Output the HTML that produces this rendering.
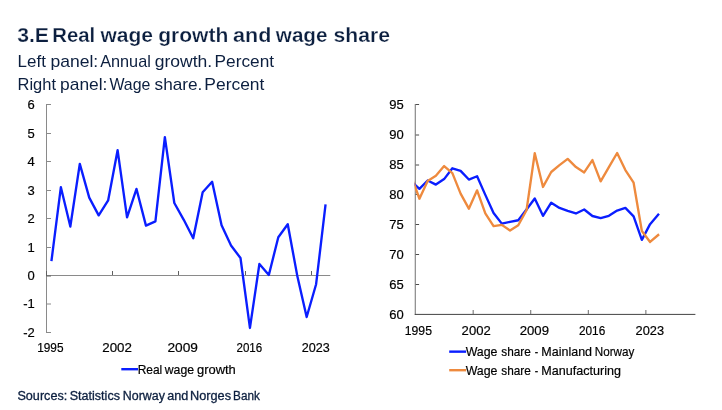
<!DOCTYPE html>
<html lang="en"><head><meta charset="utf-8"><title>3.E Real wage growth and wage share</title>
<style>
html,body{margin:0;padding:0;background:#fff;}
body{width:722px;height:410px;overflow:hidden;font-family:"Liberation Sans", sans-serif;}
svg{display:block;will-change:transform;}
text{font-family:"Liberation Sans", sans-serif;white-space:pre;}
.ttl{font-size:20.4px;font-weight:700;fill:#0c1f3f;stroke:#fff;stroke-width:0.25px;}
.sub{font-size:16.1px;fill:#0c1f3f;}
.src{font-size:12.3px;fill:#0c1f3f;stroke:#0c1f3f;stroke-width:0.3px;}
.ax{font-size:13px;fill:#000000;stroke:#000000;stroke-width:0.2px;}
.lg{font-size:13px;fill:#000000;stroke:#000000;stroke-width:0.2px;}
</style></head><body>
<svg width="722" height="410" viewBox="0 0 722 410">
<text class="ttl" y="42.0"><tspan x="17.21" textLength="31.77" lengthAdjust="spacingAndGlyphs">3.E</tspan> <tspan x="52.26" textLength="42.91" lengthAdjust="spacingAndGlyphs">Real</tspan> <tspan x="100.43" textLength="52.59" lengthAdjust="spacingAndGlyphs">wage</tspan> <tspan x="158.22" textLength="70.05" lengthAdjust="spacingAndGlyphs">growth</tspan> <tspan x="233.03" textLength="38.36" lengthAdjust="spacingAndGlyphs">and</tspan> <tspan x="275.83" textLength="51.64" lengthAdjust="spacingAndGlyphs">wage</tspan> <tspan x="333.45" textLength="56.47" lengthAdjust="spacingAndGlyphs">share</tspan></text>
<text class="sub" y="66.95"><tspan x="17.62" textLength="28.28" lengthAdjust="spacingAndGlyphs">Left</tspan> <tspan x="50.41" textLength="47.74" lengthAdjust="spacingAndGlyphs">panel:</tspan> <tspan x="100.21" textLength="50.62" lengthAdjust="spacingAndGlyphs">Annual</tspan> <tspan x="154.71" textLength="57.49" lengthAdjust="spacingAndGlyphs">growth.</tspan> <tspan x="214.62" textLength="59.40" lengthAdjust="spacingAndGlyphs">Percent</tspan></text>
<text class="sub" y="90.3"><tspan x="17.54" textLength="38.48" lengthAdjust="spacingAndGlyphs">Right</tspan> <tspan x="60.10" textLength="47.36" lengthAdjust="spacingAndGlyphs">panel:</tspan> <tspan x="109.40" textLength="41.00" lengthAdjust="spacingAndGlyphs">Wage</tspan> <tspan x="154.57" textLength="47.80" lengthAdjust="spacingAndGlyphs">share.</tspan> <tspan x="204.30" textLength="60.10" lengthAdjust="spacingAndGlyphs">Percent</tspan></text>
<g stroke="#8a8a8a" stroke-width="1" fill="none">
<path d="M46.5 104V333"/>
<path d="M46 275.5H330.3"/>
<path d="M47 104.5h4"/>
<path d="M47 133.5h4"/>
<path d="M47 161.5h4"/>
<path d="M47 190.5h4"/>
<path d="M47 218.5h4"/>
<path d="M47 247.5h4"/>
<path d="M47 304.0h4"/>
<path d="M47 332.5h4"/>
</g>
<g stroke="#606060" stroke-width="1" fill="none">
<path d="M112.5 275v-4"/>
<path d="M178.5 275v-4"/>
<path d="M245.5 275v-4"/>
<path d="M311.5 275v-4"/>
<path d="M46.5 271v5h4.5"/>
</g>
<g stroke="#4d4d4d" stroke-width="1" fill="none">
<path d="M415.25 104V314.9" stroke="#707070"/><path d="M414.75 314.4H695.4" stroke="#424242"/>
<path d="M415.6 104.5H419.1"/>
<path d="M415.6 135.0H419.1"/>
<path d="M415.6 165.0H419.1"/>
<path d="M415.6 194.5H419.1"/>
<path d="M415.6 224.5H419.1"/>
<path d="M415.6 254.5H419.1"/>
<path d="M415.6 284.5H419.1"/>
</g>
<g stroke="#6a6a6a" stroke-width="1" fill="none">
<path d="M473.17 314v-4"/>
<path d="M530.74 314v-4"/>
<path d="M588.31 314v-4"/>
<path d="M645.88 314v-4"/>
</g>
<text class="ax" x="34.7" y="336.98" text-anchor="end">-2</text>
<text class="ax" x="34.7" y="308.49" text-anchor="end">-1</text>
<text class="ax" x="34.7" y="280.00" text-anchor="end">0</text>
<text class="ax" x="34.7" y="251.51" text-anchor="end">1</text>
<text class="ax" x="34.7" y="223.02" text-anchor="end">2</text>
<text class="ax" x="34.7" y="194.53" text-anchor="end">3</text>
<text class="ax" x="34.7" y="166.04" text-anchor="end">4</text>
<text class="ax" x="34.7" y="137.55" text-anchor="end">5</text>
<text class="ax" x="34.7" y="109.06" text-anchor="end">6</text>
<text class="ax" x="403.8" y="319.00" text-anchor="end">60</text>
<text class="ax" x="403.8" y="289.01" text-anchor="end">65</text>
<text class="ax" x="403.8" y="259.01" text-anchor="end">70</text>
<text class="ax" x="403.8" y="229.02" text-anchor="end">75</text>
<text class="ax" x="403.8" y="199.03" text-anchor="end">80</text>
<text class="ax" x="403.8" y="169.04" text-anchor="end">85</text>
<text class="ax" x="403.8" y="139.04" text-anchor="end">90</text>
<text class="ax" x="403.8" y="109.05" text-anchor="end">95</text>
<text class="ax" y="352.0"><tspan x="37.18" textLength="26.32" lengthAdjust="spacingAndGlyphs">1995</tspan> <tspan x="102.23" textLength="29.66" lengthAdjust="spacingAndGlyphs">2002</tspan> <tspan x="167.43" textLength="30.50" lengthAdjust="spacingAndGlyphs">2009</tspan> <tspan x="236.52" textLength="25.69" lengthAdjust="spacingAndGlyphs">2016</tspan> <tspan x="301.86" textLength="28.02" lengthAdjust="spacingAndGlyphs">2023</tspan></text>
<text class="ax" y="335.1"><tspan x="404.78" textLength="27.21" lengthAdjust="spacingAndGlyphs">1995</tspan> <tspan x="461.64" textLength="29.11" lengthAdjust="spacingAndGlyphs">2002</tspan> <tspan x="519.73" textLength="29.28" lengthAdjust="spacingAndGlyphs">2009</tspan> <tspan x="578.92" textLength="26.30" lengthAdjust="spacingAndGlyphs">2016</tspan> <tspan x="635.54" textLength="28.48" lengthAdjust="spacingAndGlyphs">2023</tspan></text>
<polyline fill="none" stroke="#0a1eff" stroke-width="2.35" stroke-linejoin="round" stroke-linecap="butt" points="51.43,261.15 60.88,187.22 70.33,226.49 79.79,163.85 89.24,197.59 98.69,215.38 108.14,200.44 117.60,150.17 127.05,217.38 136.50,188.93 145.96,225.64 155.41,221.39 164.86,137.20 174.32,203.01 183.77,219.82 193.22,238.18 202.67,192.18 212.13,181.80 221.58,225.24 231.03,245.47 240.49,258.01 249.94,327.95 259.39,264.03 268.85,274.94 278.30,237.21 287.75,224.27 297.20,275.40 306.66,317.04 316.11,284.23 325.56,204.43"/>
<defs><clipPath id="rc"><rect x="414.60" y="100" width="300" height="214.45"/></clipPath></defs>
<g clip-path="url(#rc)">
<polyline fill="none" stroke="#0a1eff" stroke-width="2.35" stroke-linejoin="round" stroke-linecap="butt" points="411.18,181.20 419.42,188.85 427.66,180.45 435.89,184.59 444.13,179.10 452.37,168.27 460.61,170.88 468.85,179.55 477.09,176.25 485.32,194.88 493.56,213.00 501.80,223.65 510.04,221.82 518.27,220.26 526.51,209.52 534.75,198.45 542.99,215.85 551.23,202.65 559.47,207.96 567.70,210.90 575.94,213.45 584.18,209.49 592.42,216.00 600.65,218.19 608.89,215.76 617.13,210.54 625.37,207.93 633.61,216.36 641.85,239.85 650.08,224.16 658.97,213.74"/>
<polyline fill="none" stroke="#ee8a3e" stroke-width="2.35" stroke-linejoin="round" stroke-linecap="butt" points="411.18,175.50 419.42,198.75 427.66,180.90 435.89,175.74 444.13,166.05 452.37,173.10 460.61,193.68 468.85,208.65 477.09,190.35 485.32,213.42 493.56,226.17 501.80,224.85 510.04,230.55 518.27,225.30 526.51,210.30 534.75,153.27 542.99,186.93 551.23,172.02 559.47,165.18 567.70,158.85 575.94,167.10 584.18,172.47 592.42,160.05 600.65,181.35 608.89,167.10 617.13,152.97 625.37,170.10 633.61,182.70 641.85,231.00 650.08,241.95 659.08,234.25"/>
</g>
<path d="M121.3 369.2H138.0" stroke="#0a1eff" stroke-width="2.4"/>
<text class="lg" y="373.8"><tspan x="137.67" textLength="24.62" lengthAdjust="spacingAndGlyphs">Real</tspan> <tspan x="164.72" textLength="29.32" lengthAdjust="spacingAndGlyphs">wage</tspan> <tspan x="196.98" textLength="38.83" lengthAdjust="spacingAndGlyphs">growth</tspan></text>
<path d="M449.2 351.65H466.1" stroke="#0a1eff" stroke-width="2.4"/>
<text class="lg" y="356.1"><tspan x="465.64" textLength="31.82" lengthAdjust="spacingAndGlyphs">Wage</tspan> <tspan x="501.24" textLength="29.52" lengthAdjust="spacingAndGlyphs">share</tspan> <tspan x="534.83" textLength="3.43" lengthAdjust="spacingAndGlyphs">-</tspan> <tspan x="541.33" textLength="50.72" lengthAdjust="spacingAndGlyphs">Mainland</tspan> <tspan x="594.72" textLength="39.57" lengthAdjust="spacingAndGlyphs">Norway</tspan></text>
<path d="M449.2 370.2H466.1" stroke="#ee8a3e" stroke-width="2.4"/>
<text class="lg" y="374.5"><tspan x="465.64" textLength="31.82" lengthAdjust="spacingAndGlyphs">Wage</tspan> <tspan x="501.24" textLength="29.52" lengthAdjust="spacingAndGlyphs">share</tspan> <tspan x="534.83" textLength="3.43" lengthAdjust="spacingAndGlyphs">-</tspan> <tspan x="541.30" textLength="79.60" lengthAdjust="spacingAndGlyphs">Manufacturing</tspan></text>
<text class="src" y="399.8"><tspan x="17.43" textLength="49.81" lengthAdjust="spacingAndGlyphs">Sources:</tspan> <tspan x="69.71" textLength="50.27" lengthAdjust="spacingAndGlyphs">Statistics</tspan> <tspan x="122.80" textLength="42.09" lengthAdjust="spacingAndGlyphs">Norway</tspan> <tspan x="167.21" textLength="21.07" lengthAdjust="spacingAndGlyphs">and</tspan> <tspan x="190.03" textLength="40.99" lengthAdjust="spacingAndGlyphs">Norges</tspan> <tspan x="233.11" textLength="26.74" lengthAdjust="spacingAndGlyphs">Bank</tspan></text>
</svg></body></html>
